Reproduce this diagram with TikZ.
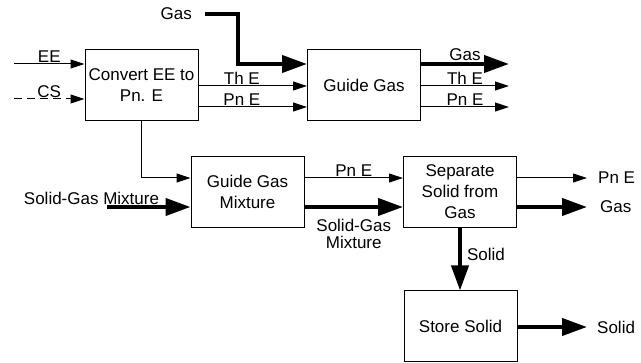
\documentclass[tikz,border=0pt]{standalone}
\usepackage{fontspec}
\setmainfont{Liberation Sans}
\usetikzlibrary{arrows.meta, positioning, calc}

\begin{document}
\begin{tikzpicture}[
  x=1pt, y=-1pt,
  font=\fontsize{17}{21}\selectfont,
  fbox/.style={draw, line width=1pt, minimum width=113pt, minimum height=71pt, align=center, inner sep=2pt},
  tarr/.style={line width=1pt, -{Triangle[length=14pt,width=9pt]}},
  barr/.style={line width=4pt, -{Triangle[length=25pt,width=17pt]}},
  lbl/.style={inner sep=1pt}
]
  \useasboundingbox (0,0) rectangle (641,363);

  % function blocks
  \node[fbox] (conv)  at (141.5,85.5) {Convert EE to\\Pn. E};
  \node[fbox] (guide) at (364,85.5)   {Guide Gas};
  \node[fbox] (mix)   at (247.5,192)  {Guide Gas\\Mixture};
  \node[fbox] (sep)   at (460,192)    {Separate\\Solid from\\Gas};
  \node[fbox] (store) at (460.5,326.5) {Store Solid};

  % free ends
  \coordinate (ee)     at (14,64);
  \coordinate (cs)     at (14,99);
  \coordinate (gasin)  at (205,14);
  \coordinate (gasbend) at (238,64);
  \coordinate (mixin)  at (107,207);
  \coordinate (gasout) at (509,64);
  \coordinate (theout) at (509,86);
  \coordinate (pneout) at (509,107);
  \coordinate (pnout)  at (587,178);
  \coordinate (sgout)  at (587,207);
  \coordinate (solout) at (587,327);

  % inputs
  \draw[tarr] (ee) -- node[above, lbl] (eetxt) {EE} (ee -| conv.west);
  \draw[tarr, dash pattern=on 8pt off 5pt] (cs) -- node[above, lbl] (cstxt) {CS} (cs -| conv.west);
  \node[lbl, left=12pt of gasin] (gastxt) {Gas};
  \draw[barr] (gasin) -| (gasbend) -- (gasbend -| guide.west);
  \node[lbl] (mixtxt) at (91.5,198) {Solid-Gas Mixture};
  \draw[barr] (mixin) -- (mixin -| mix.west);

  % convert -> guide gas
  \draw[tarr] ([yshift=-0.5pt]conv.east) -- node[above, lbl, pos=0.4] (thetxt) {Th E} ([yshift=-0.5pt]conv.east -| guide.west);
  \draw[tarr] ([yshift=-21.5pt]conv.east) -- node[above, lbl, pos=0.4] (pnetxt) {Pn E} ([yshift=-21.5pt]conv.east -| guide.west);
  \draw[tarr] (conv.south) |- ([yshift=14pt]mix.west);

  % guide gas outputs
  \draw[barr] (guide.east |- gasout) -- node[above, lbl] (gasotxt) {Gas} (gasout);
  \draw[tarr] (guide.east |- theout) -- node[above, lbl] (theotxt) {Th E} (theout);
  \draw[tarr] (guide.east |- pneout) -- node[above, lbl] (pneotxt) {Pn E} (pneout);

  % mixture -> separate
  \draw[tarr] ([yshift=14pt]mix.east) -- node[above, lbl] (pnmtxt) {Pn E} ([yshift=14pt]mix.east -| sep.west);
  \draw[barr] ([yshift=-15pt]mix.east) -- node[below=9pt, lbl, align=center] (sgtxt) {Solid-Gas\\[-4pt]Mixture} ([yshift=-15pt]mix.east -| sep.west);

  % separate outputs
  \draw[tarr] (sep.east |- pnout) -- (pnout);
  \node[lbl, right=10pt of pnout] (pnotxt) {Pn E};
  \draw[barr] (sep.east |- sgout) -- (sgout);
  \node[lbl, right=12pt of sgout] (gsotxt) {Gas};
  \draw[barr] (sep.south) -- node[right=4pt, lbl, pos=0.43] (soltxt) {Solid} (sep.south |- store.north);

  % store output
  \draw[barr] (store.east |- solout) -- (solout);
  \node[lbl, right=9pt of solout] (solotxt) {Solid};
\end{tikzpicture}
\end{document}
